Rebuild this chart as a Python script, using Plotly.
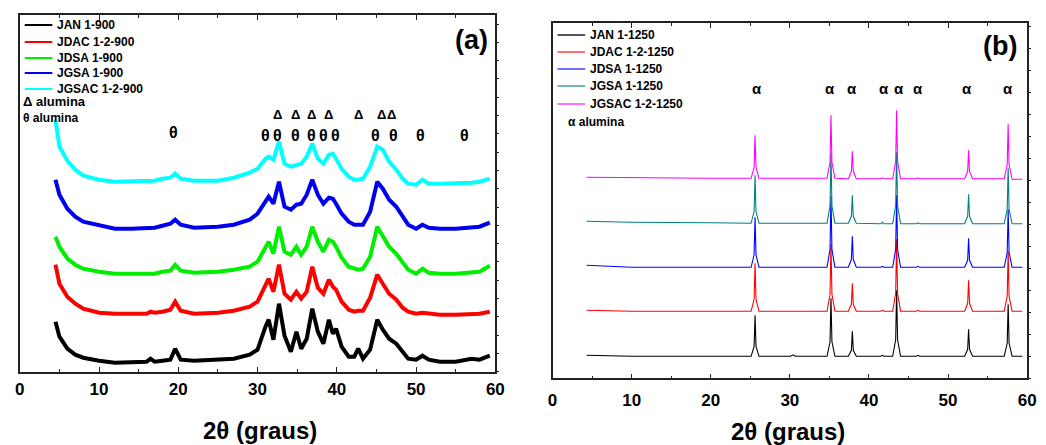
import plotly.graph_objects as go

# ---------------- Panel (a) data: 900 C samples ----------------
x_a = [4.5, 5, 6, 7, 8, 9, 10, 12, 14, 16, 16.5, 17, 18, 19, 19.6, 20.3, 22, 25, 27, 29,
       30, 31, 31.4, 32, 32.7, 33.4, 34.2, 34.9, 35.5, 36.2, 36.9, 37.6, 38.3, 39.0, 39.5,
       39.9, 40.6, 41.5, 42.2, 42.7, 43.3, 44.2, 45.1, 45.8, 46.6, 47.5, 48.3, 49, 50, 50.8,
       51.6, 53, 55, 56.5, 57, 58, 59.3]

jan_900 = [50, 35, 23, 17, 14, 12, 11, 9, 9, 10, 13, 10, 11, 12, 23, 12, 11, 12, 13, 17,
           22, 45, 52, 32, 68, 36, 20, 40, 23, 33, 63, 40, 28, 52, 38,
           43, 25, 15, 15, 23, 13, 22, 52, 42, 33, 28, 20, 13, 12, 16,
           12, 10, 10, 12, 13, 12, 16]
jdac_900 = [107, 88, 75, 68, 63, 61, 59, 58, 58, 58, 60, 59, 60, 62, 70, 61, 58, 59, 61, 65,
            70, 85, 93, 80, 107, 78, 72, 80, 73, 80, 105, 84, 78, 92, 85,
            82, 70, 62, 60, 61, 61, 74, 97, 88, 78, 72, 64, 60, 58, 59,
            58, 57, 57, 57, 58, 58, 60]
jdsa_900 = [135, 125, 113, 107, 103, 101, 100, 98, 98, 98, 99, 98, 100, 101, 107, 101, 99, 100, 102, 105,
            110, 124, 130, 118, 145, 120, 117, 125, 117, 125, 145, 130, 120, 132, 130,
            125, 114, 105, 103, 102, 103, 115, 145, 135, 125, 118, 110, 102, 98, 103,
            99, 98, 98, 99, 99, 100, 106]
jgsa_900 = [192, 177, 163, 155, 150, 148, 146, 143, 143, 143, 144, 144, 146, 148, 152, 147, 144, 145, 147, 152,
            158, 170, 175, 168, 190, 165, 162, 167, 168, 177, 192, 177, 168, 174, 173,
            168, 158, 150, 147, 147, 147, 160, 190, 183, 172, 165, 156, 147, 143, 147,
            144, 143, 143, 144, 144, 145, 149]
jgsac_900 = [252, 225, 211, 202, 196, 194, 192, 190, 190, 190, 191, 191, 193, 194, 198, 193, 191, 191, 194, 199,
             203, 213, 215, 212, 230, 208, 205, 207, 208, 215, 228, 213, 208, 217, 218,
             213, 203, 195, 192, 192, 193, 205, 225, 222, 210, 202, 193, 188, 187, 192,
             188, 188, 188, 189, 189, 190, 193]

names_a = ["JAN 1-900", "JDAC 1-2-900", "JDSA 1-900", "JGSA 1-900", "JGSAC 1-2-900"]
series_a = [jan_900, jdac_900, jdsa_900, jgsa_900, jgsac_900]
colors_a = ["#000000", "#ff0000", "#00ee00", "#0000ee", "#00ffff"]

delta_pos = [32.5, 34.8, 36.8, 38.9, 42.7, 45.6, 46.9]
theta_pos = [19.4, 31.0, 32.5, 34.8, 36.8, 38.3, 39.8, 44.9, 47.1, 50.5, 56.1]

# ---------------- Panel (b) data: 1250 C samples ----------------
x_b = [4.3, 10, 20, 25.1,
       25.48, 25.6, 25.72, 26.1,
       30.1, 30.4, 30.7,
       34.7, 35.08, 35.2, 35.32, 35.7,
       37.4, 37.78, 37.9, 38.02, 38.4,
       41.5, 41.7, 41.9,
       43.0, 43.38, 43.5, 43.62, 44.0,
       46.0, 46.2, 46.4,
       52.1, 52.48, 52.6, 52.72, 53.1,
       57.1, 57.48, 57.6, 57.72, 58.1,
       59.4]

jan_1250 = [23, 22, 22, 22,
            32, 63, 32, 22,
            22, 23.5, 22,
            22, 36.5, 80, 36.5, 22,
            22, 28, 47, 28, 22,
            22, 23, 22,
            22, 38.5, 88, 38.5, 22,
            22, 23, 22,
            22, 29, 49, 29, 22,
            22, 35, 74, 35, 22,
            22]
jdac_1250 = [68, 67, 67, 67,
             79, 115, 79, 67,
             67, 67, 67,
             67, 84, 134, 84, 67,
             67, 74, 95, 74, 67,
             67, 68, 67,
             67, 85, 139, 85, 67,
             67, 68, 67,
             67, 75, 98, 75, 67,
             67, 82, 127, 82, 67,
             67]
jdsa_1250 = [113, 111, 111, 111,
             123.5, 161, 123.5, 111,
             111, 111, 111,
             111, 129, 182, 129, 111,
             111, 119, 142, 119, 111,
             111, 112, 111,
             111, 129, 183, 129, 111,
             111, 112, 111,
             111, 118, 140, 118, 111,
             111, 125.5, 169, 125.5, 111,
             111]
jgsa_1250 = [157, 156, 155.5, 155,
             167, 203, 167, 155,
             155, 155, 155,
             155, 172.5, 225, 172.5, 155,
             155, 162, 183, 162, 155,
             154.5, 156, 154.5,
             154.5, 173, 226, 173, 154.5,
             154.5, 155.5, 154.5,
             154.5, 162, 184, 162, 154.5,
             154.5, 169, 210, 169, 154.5,
             154.5]
jgsac_1250 = [201, 200.5, 200, 200,
              211, 243, 211, 200,
              200, 200, 200,
              200, 216, 263, 216, 200,
              199.5, 207, 227, 207, 199.5,
              199.5, 200.5, 199.5,
              199.5, 217, 268, 217, 199.5,
              199.5, 200.5, 199.5,
              199.5, 207, 228, 207, 199.5,
              199.5, 213.5, 254, 213.5, 199,
              199]

names_b = ["JAN 1-1250", "JDAC 1-2-1250", "JDSA 1-1250", "JGSA 1-1250", "JGSAC 1-2-1250"]
series_b = [jan_1250, jdac_1250, jdsa_1250, jgsa_1250, jgsac_1250]
colors_b = ["#000000", "#ff0000", "#0000ff", "#008080", "#ff00ff"]
legend_colors_b = ["#555555", "#ff6f6f", "#7070ff", "#6fb7b7", "#ff70ff"]

alpha_pos = [25.8, 35.1, 37.9, 41.9, 43.8, 46.25, 52.4, 57.6]

x_ticks = [0, 10, 20, 30, 40, 50, 60]

# ---------------- figure ----------------
W, H = 1046, 445
# pixel boxes of the two frames
A_L, A_R, A_T, A_B = 15, 497, 15, 371.7
B_L, B_R, B_T, B_B = 555, 1036, 23.3, 378.3
A_YMAX = A_B - A_T
B_YMAX = B_B - B_T

FONT = "Liberation Sans, Arial, sans-serif"
AX = "#222222"

fig = go.Figure()
for name, ys, c in zip(names_a, series_a, colors_a):
    fig.add_trace(go.Scatter(x=x_a, y=ys, name=name, mode="lines",
                             line=dict(color=c, width=4), xaxis="x", yaxis="y",
                             showlegend=False))
for name, ys, c in zip(names_b, series_b, colors_b):
    fig.add_trace(go.Scatter(x=x_b, y=ys, name=name, mode="lines",
                             line=dict(color=c, width=1.1), xaxis="x2", yaxis="y2",
                             showlegend=False))
# empty traces so the right-hand tick axes exist
fig.add_trace(go.Scatter(x=[], y=[], xaxis="x", yaxis="y3", showlegend=False))
fig.add_trace(go.Scatter(x=[], y=[], xaxis="x2", yaxis="y4", showlegend=False))


def xax(dom, anchor, standoff):
    return dict(domain=dom, anchor=anchor, range=[0, 60], tickvals=x_ticks,
                ticks="inside", ticklen=5, tickwidth=1.3, tickcolor=AX,
                minor=dict(dtick=5, ticks="inside", ticklen=3, tickcolor=AX, tickwidth=1.2),
                mirror="ticks", showline=True, linecolor=AX, linewidth=1.5,
                showgrid=False, zeroline=False, ticklabelstandoff=standoff,
                tickfont=dict(family=FONT, size=17, color="#000", weight="bold"))


def yax(dom, anchor, ymax):
    return dict(domain=dom, anchor=anchor, range=[0, ymax], showticklabels=False,
                ticks="", showline=True, mirror=True, linecolor=AX, linewidth=1.5,
                showgrid=False, zeroline=False)


def yright(over, anchor, ymax, dt):
    return dict(overlaying=over, anchor=anchor, side="right", range=[0, ymax],
                showticklabels=False, ticks="outside", ticklen=3, tickwidth=1,
                tickcolor=AX, dtick=dt, tick0=0, showline=False, showgrid=False,
                zeroline=False)


fig.update_layout(
    width=W, height=H, margin=dict(l=0, r=0, t=0, b=0),
    paper_bgcolor="white", plot_bgcolor="white",
    xaxis=xax([A_L / W, A_R / W], "y", 1),
    yaxis=yax([(H - A_B) / H, (H - A_T) / H], "x", A_YMAX),
    xaxis2=xax([B_L / W, B_R / W], "y2", 6),
    yaxis2=yax([(H - B_B) / H, (H - B_T) / H], "x2", B_YMAX),
    yaxis3=yright("y", "x", A_YMAX, 18.3),
    yaxis4=yright("y2", "x2", B_YMAX, 22),
)

ann = []
shapes = []


def fx(px, L, R):
    return (px - L) / (R - L)


def fy(py, T, B):
    return (B - py) / (B - T)


# legends
rows_a = [25, 42, 58, 73, 89]
for name, c, py in zip(names_a, colors_a, rows_a):
    shapes.append(dict(type="line", xref="x domain", yref="y domain",
                       x0=fx(20, A_L, A_R), x1=fx(48, A_L, A_R),
                       y0=fy(py, A_T, A_B), y1=fy(py, A_T, A_B),
                       line=dict(color=c, width=2)))
    ann.append(dict(xref="x domain", yref="y domain", x=fx(51, A_L, A_R), y=fy(py, A_T, A_B),
                    text=name, showarrow=False, xanchor="left", yanchor="middle",
                    font=dict(family=FONT, size=12, color="#000", weight="bold")))
ann.append(dict(xref="x domain", yref="y domain", x=fx(16, A_L, A_R), y=fy(102, A_T, A_B),
                text="Δ alumina", showarrow=False, xanchor="left", yanchor="middle",
                font=dict(family=FONT, size=13, color="#000", weight="bold")))
ann.append(dict(xref="x domain", yref="y domain", x=fx(16, A_L, A_R), y=fy(118, A_T, A_B),
                text="θ alumina", showarrow=False, xanchor="left", yanchor="middle",
                font=dict(family=FONT, size=12, color="#000", weight="bold")))
ann.append(dict(xref="x domain", yref="y domain", x=fx(473, A_L, A_R), y=fy(40, A_T, A_B),
                text="(a)", showarrow=False, xanchor="center", yanchor="middle",
                font=dict(family=FONT, size=27, color="#000", weight="bold")))

rows_b = [35, 52, 69, 86, 104]
for name, c, py in zip(names_b, legend_colors_b, rows_b):
    shapes.append(dict(type="line", xref="x2 domain", yref="y2 domain",
                       x0=fx(560, B_L, B_R), x1=fx(588, B_L, B_R),
                       y0=fy(py, B_T, B_B), y1=fy(py, B_T, B_B),
                       line=dict(color=c, width=2)))
    ann.append(dict(xref="x2 domain", yref="y2 domain", x=fx(591, B_L, B_R), y=fy(py, B_T, B_B),
                    text=name, showarrow=False, xanchor="left", yanchor="middle",
                    font=dict(family=FONT, size=12, color="#000", weight="bold")))
ann.append(dict(xref="x2 domain", yref="y2 domain", x=fx(569, B_L, B_R), y=fy(122, B_T, B_B),
                text="α alumina", showarrow=False, xanchor="left", yanchor="middle",
                font=dict(family=FONT, size=12, color="#000", weight="bold")))
ann.append(dict(xref="x2 domain", yref="y2 domain", x=fx(1009, B_L, B_R), y=fy(46, B_T, B_B),
                text="(b)", showarrow=False, xanchor="center", yanchor="middle",
                font=dict(family=FONT, size=27, color="#000", weight="bold")))

# phase markers
for p in delta_pos:
    ann.append(dict(xref="x", yref="y", x=p, y=A_B - 115, text="Δ", showarrow=False,
                    font=dict(family=FONT, size=13, color="#000", weight="bold")))
for i, p in enumerate(theta_pos):
    ann.append(dict(xref="x", yref="y", x=p, y=A_B - (132 if i == 0 else 135), text="θ",
                    showarrow=False,
                    font=dict(family=FONT, size=16, color="#000", weight="bold")))
for p in alpha_pos:
    ann.append(dict(xref="x2", yref="y2", x=p, y=B_B - 88, text="α", showarrow=False,
                    font=dict(family=FONT, size=15, color="#000", weight="bold")))

# axis titles
ann.append(dict(xref="paper", yref="paper", x=258 / W, y=(H - 430) / H, text="2θ (graus)",
                showarrow=False, xanchor="center", yanchor="middle",
                font=dict(family=FONT, size=24, color="#000", weight="bold")))
ann.append(dict(xref="paper", yref="paper", x=794 / W, y=(H - 431) / H, text="2θ (graus)",
                showarrow=False, xanchor="center", yanchor="middle",
                font=dict(family=FONT, size=24, color="#000", weight="bold")))

fig.update_layout(annotations=ann, shapes=shapes)
fig.write_html("out.html", config={"displayModeBar": False},
               post_script="document.body.style.margin='0';document.body.style.padding='0';")
